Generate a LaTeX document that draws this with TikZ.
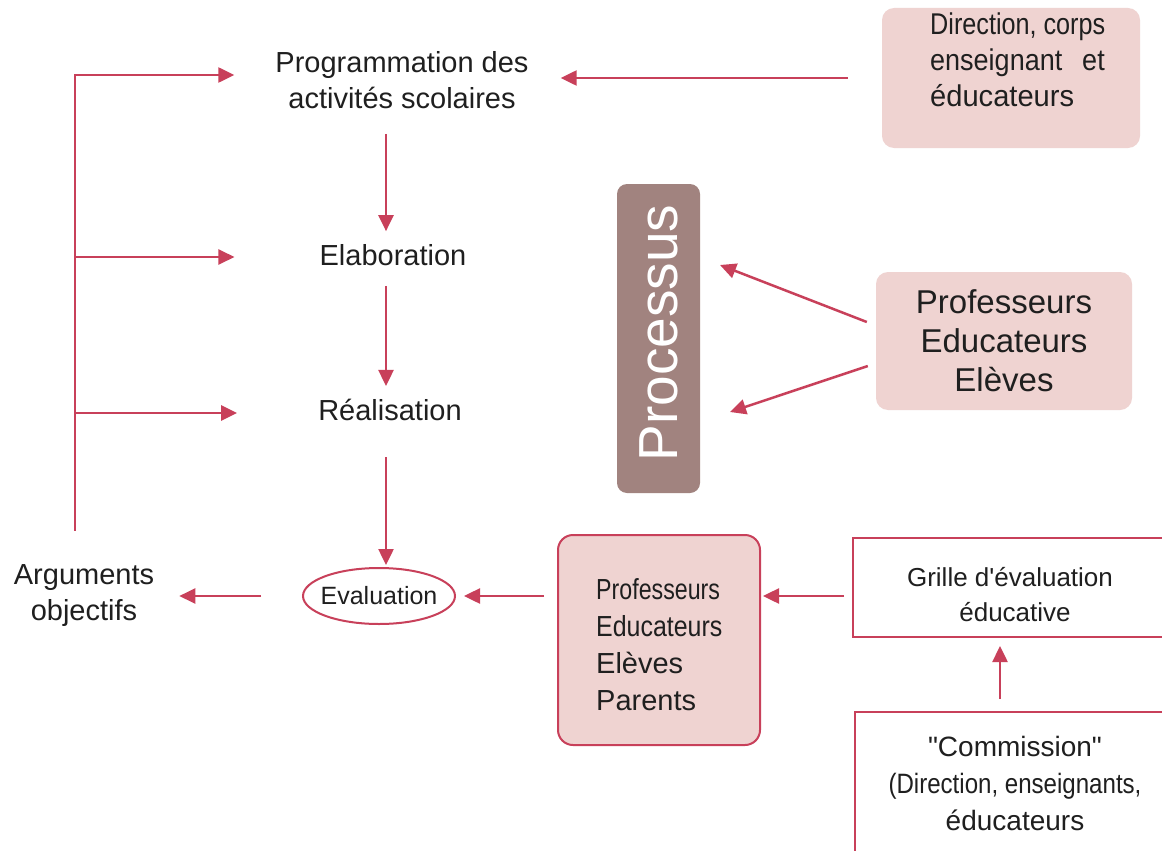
\documentclass[tikz,border=0pt]{standalone}
\usepackage{fontspec}
\setmainfont{Liberation Sans}[Ligatures=TeXOff]
\usepackage{graphicx}
\usetikzlibrary{arrows.meta,shapes.geometric,calc}
\definecolor{rl}{RGB}{200,64,90}
\definecolor{pk}{RGB}{239,211,209}
\definecolor{pm}{RGB}{161,131,127}
\newcommand{\fsz}[2]{\fontsize{#1}{#2}\selectfont}
\begin{document}
\begin{tikzpicture}[x=1pt,y=-1pt,
  redline/.style={draw=rl,line width=2.5pt},
  arr/.style={redline,-{Triangle[length=16pt,width=15pt]}},
  lbl/.style={inner sep=0pt,align=center,text=black!88},
  pinkbox/.style={fill=pk,rounded corners=12pt,inner sep=0pt,text=black!88},
  framebox/.style={draw=rl,line width=2pt,inner sep=0pt,align=center,text=black!88}
]
\clip (0,0) rectangle (1162,851);
\fill[white] (0,0) rectangle (1162,851);

% left column
\node[lbl,font=\fsz{29}{36}] (prog) at (402,80) {Programmation des\\activités scolaires};
\node[lbl,font=\fsz{29}{36}] (elab) at (393,255) {Elaboration};
\node[lbl,font=\fsz{29}{36}] (real) at (390,410) {Réalisation};
\node[draw=rl,line width=2pt,ellipse,minimum width=152pt,minimum height=56pt,inner sep=-8pt,
      font=\fsz{25}{30},text=black!88] (eval) at (379,596) {Evaluation};
\node[lbl,font=\fsz{29}{36}] (args) at (84,596) {Arguments\\objectifs};

% direction box
\node[pinkbox,minimum width=258pt,minimum height=140pt] (dir) at (1011,78) {};
\node[lbl,align=left,anchor=west,font=\fsz{30}{36}] (dirt) at (930,59.5)
  {\scalebox{0.84}[1]{Direction, corps}\\\scalebox{0.9}[1]{\hbox to 194pt{enseignant\hfill et}}\\\scalebox{0.97}[1]{éducateurs}};

% processus
\node[fill=pm,rounded corners=10pt,minimum width=83pt,minimum height=309pt,inner sep=0pt] (proc) at (658.5,338.5) {};
\node[rotate=90,inner sep=0pt,text=white,font=\fsz{55}{60}] (proct) at (659,333) {Processus};

% middle right box
\node[pinkbox,minimum width=256pt,minimum height=138pt,align=center,font=\fsz{33}{39}] (mid) at (1004,341)
  {Professeurs\\Educateurs\\Elèves};

% lower box
\node[pinkbox,draw=rl,line width=2pt,rounded corners=15pt,minimum width=202pt,minimum height=210pt] (low) at (659,640) {};
\node[lbl,align=left,anchor=west,font=\fsz{29}{37}] (lowt) at (596,645)
  {\scalebox{0.8}[1]{Professeurs}\\\scalebox{0.86}[1]{Educateurs}\\Elèves\\Parents};

% grille
\node[framebox,minimum width=312pt,minimum height=99pt] (grille) at (1009,587.5) {};
\node[lbl,font=\fsz{26}{35}] (grillet) at (1010,595) {Grille d'évaluation\\\hspace*{10pt}éducative};

% commission
\node[framebox,minimum width=320pt,minimum height=142pt,font=\fsz{28}{37}] (comm) at (1015,783)
  {"Commission"\\\scalebox{0.86}[1]{(Direction, enseignants,}\\éducateurs};

% coordinates
\coordinate (ax) at (386,0);
\coordinate (brk) at (75,0);
\coordinate (ax2) at (1000,0);

% arrows
\draw[arr,shorten <=34pt,shorten >=32pt] (dir.west) -- (dir.west -| prog.east);
\draw[arr,shorten <=25pt,shorten >=13pt] (prog.south -| ax) -- (elab.north -| ax);
\draw[arr,shorten <=20pt,shorten >=13pt] (elab.south -| ax) -- (real.north -| ax);
\draw[arr,shorten <=36pt,shorten >=2pt] (real.south -| ax) -- (eval.north -| ax);
\draw[arr,shorten <=13pt,shorten >=8pt] (low.west |- eval) -- (eval.east);
\draw[arr,shorten <=41pt,shorten >=25pt] (eval.west) -- (args.east |- eval);
\draw[arr,shorten <=8pt,shorten >=2pt] (grille.west |- eval) -- (low.east |- eval);
\draw[arr,shorten <=12pt,shorten >=8pt] (comm.north -| ax2) -- (grille.south -| ax2);
\draw[arr,shorten <=34pt,shorten >=41pt] (args.north -| brk) -- ($(brk |- prog.west)+(0,-5)$) -- ($(prog.west)+(0,-5)$);
\draw[arr,shorten >=85pt] ($(brk |- elab)+(0,2)$) -- ($(elab.west)+(0,2)$);
\draw[arr,shorten >=81pt] ($(brk |- real)+(0,3)$) -- ($(real.west)+(0,3)$);
\draw[arr] ($(mid.west)+(-9,-19)$) -- ($(proc.center)+(61.5,-73.5)$);
\draw[arr] ($(mid.west)+(-8,25)$) -- ($(proc.center)+(71.5,73.5)$);
\end{tikzpicture}
\end{document}
